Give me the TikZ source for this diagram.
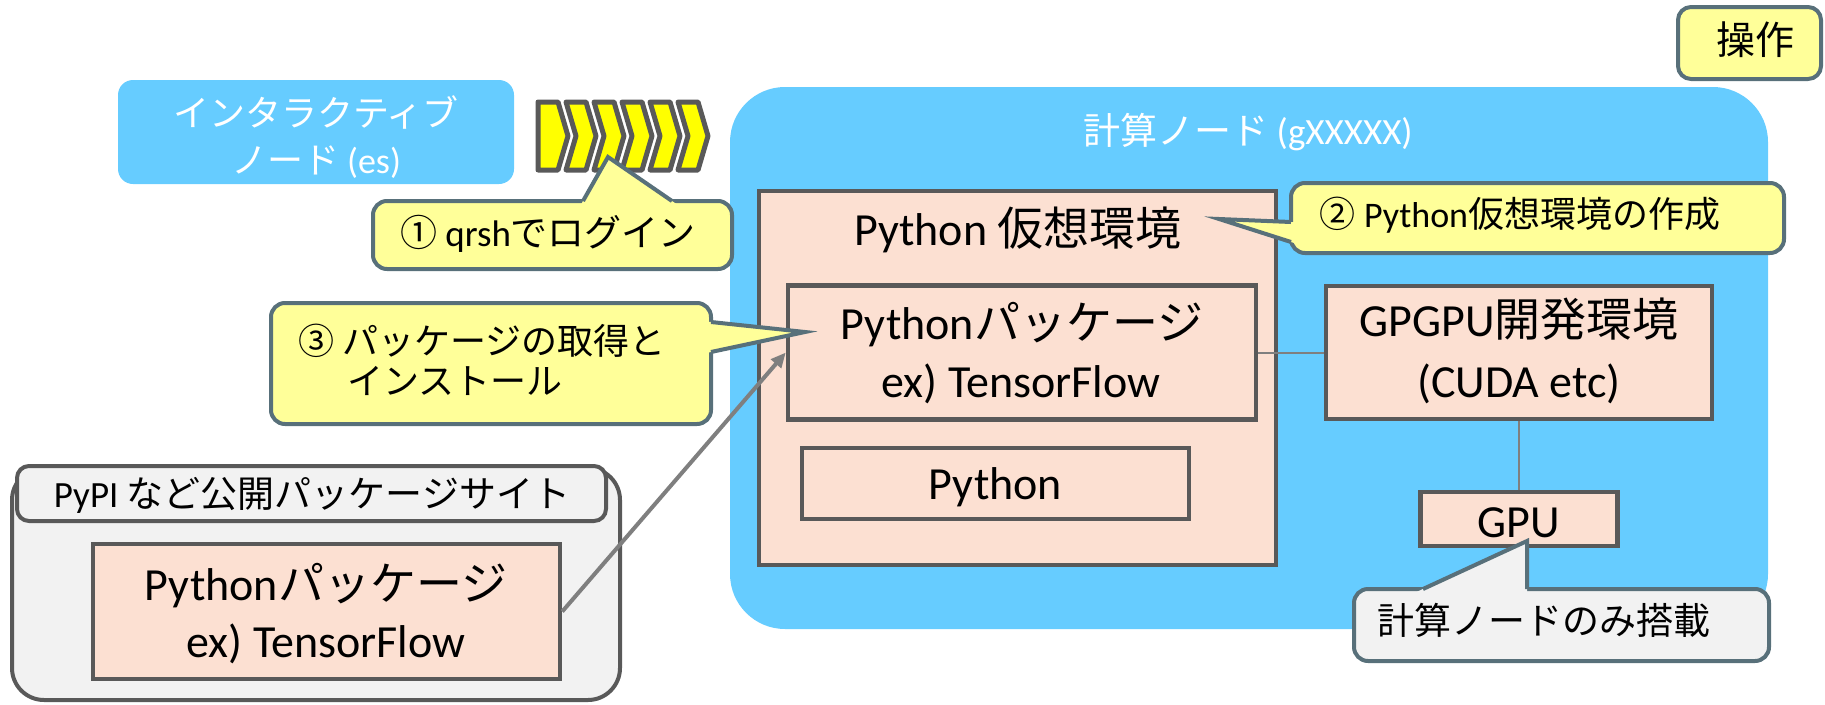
\documentclass[tikz,border=0pt]{standalone}
\usepackage{fontspec}
\setmainfont{Carlito}
\newfontfamily\jp{Noto Sans CJK JP}
\usetikzlibrary{calc,arrows.meta}
\definecolor{nodeblue}{HTML}{66CCFF}
\definecolor{peach}{HTML}{FCE0D2}
\definecolor{boxgray}{HTML}{595959}
\definecolor{callyellow}{HTML}{FFFF99}
\definecolor{callline}{HTML}{58707A}
\definecolor{paleg}{HTML}{F2F2F2}
\definecolor{linegray}{HTML}{7F7F7F}
\definecolor{chevyellow}{HTML}{FFFF00}
\newcommand\fbig{\fontsize{46}{55}\selectfont}
\newcommand\fmid{\fontsize{36}{44}\selectfont}
\newcommand\fsml{\fontsize{37}{44}\selectfont}
\begin{document}
\begin{tikzpicture}[x=1pt,y=-1pt,
  box/.style={draw=boxgray, line width=4.5pt, fill=peach, inner sep=0pt, rectangle},
  bluebox/.style={fill=nodeblue, inner sep=0pt, rectangle},
  graybox/.style={draw=boxgray, line width=4pt, fill=paleg, inner sep=0pt, rectangle},
  callbox/.style={draw=callline, line width=4pt, fill=callyellow, inner sep=0pt, rectangle, rounded corners=14pt},
  callfill/.style={fill=callyellow},
  calledge/.style={draw=callline, line width=4pt, line join=miter},
  chev/.style={draw=boxgray, line width=5pt, fill=chevyellow, line join=round},
  conn/.style={draw=linegray, line width=2pt},
  arrowline/.style={draw=linegray, line width=4pt, -{Triangle[length=15pt,width=13pt]}},
  txt/.style={inner sep=0pt, anchor=base, font=\fbig},
  mtxt/.style={inner sep=0pt, anchor=base, font=\fmid},
]
\useasboundingbox (0,0) rectangle (1825,704);

% compute node background
\node[bluebox, minimum width=1038pt, minimum height=542pt, rounded corners=55pt] (compute) at (1249,358) {};
\node[mtxt, text=white, font=\fontsize{37}{44}\selectfont] (computetitle) at (1248,144.5) {{\jp 計算ノード} (gXXXXX)};

% interactive node
\node[bluebox, minimum width=396pt, minimum height=104pt, rounded corners=15pt] (inter) at (316,132) {};
\node[mtxt, text=white] (intert1) at (316,126) {\jp インタラクティブ};
\node[mtxt, text=white] (intert2) at (316,173) {{\jp ノード} (es)};

% chevrons
\draw[chev] (538,102) -- (558,102) -- (568,136) -- (558,170) -- (538,170) -- cycle;
\foreach \k in {1,...,5}{
  \pgfmathsetmacro\chx{538+28*\k}
  \draw[chev] (\chx,102) -- ++(20,0) -- ++(10,34) -- ++(-10,34) -- ++(-20,0) -- ++(10,-34) -- cycle;
}

% venv
\node[box, minimum width=517pt, minimum height=374pt] (venv) at (1017.5,378) {};
\node[txt] (venvt) at (1018,245.5) {Python {\jp 仮想環境}};
\node[box, minimum width=468pt, minimum height=134pt] (venvpkg) at (1022,352.5) {};
\node[txt] (venvpkgt1) at (1022,339.5) {Python{\jp パッケージ}};
\node[txt] (venvpkgt2) at (1021,397.5) {ex) TensorFlow};
\node[box, minimum width=387pt, minimum height=71pt] (python) at (995.5,483.5) {};
\node[txt] (pythont) at (995.5,499) {Python};

% GPGPU and GPU
\node[box, minimum width=386pt, minimum height=133pt] (gpgpu) at (1519,352.5) {};
\node[txt] (gpgput1) at (1519,336.5) {GPGPU{\jp 開発環境}};
\node[txt] (gpgput2) at (1519,397) {(CUDA etc)};
\node[box, minimum width=197pt, minimum height=54pt] (gpu) at (1519,519) {};
\node[txt] (gput) at (1519,537) {GPU};

\draw[conn] (venvpkg.east) -- (gpgpu.west);
\draw[conn] (gpgpu.south) -- (gpu.north);

% PyPI site
\node[graybox, minimum width=608pt, minimum height=232pt, rounded corners=32pt] (pypi) at (316,584) {};
\node[graybox, minimum width=589pt, minimum height=55pt, rounded corners=12pt] (pypilabel) at (311.5,493.5) {};
\node[inner sep=0pt, anchor=base, font=\fsml] (pypilabelt) at (312,507) {PyPI {\jp など公開パッケージサイト}};
\node[box, minimum width=467pt, minimum height=135pt] (pypipkg) at (326.5,611.5) {};
\node[txt] (pypipkgt1) at (326,600.5) {Python{\jp パッケージ}};
\node[txt] (pypipkgt2) at (326,657) {ex) TensorFlow};

\draw[arrowline] (pypipkg.east) -- (venvpkg.west);

% operation label
\node[callbox, minimum width=143pt, minimum height=72pt, rounded corners=13pt] (ops) at (1749.5,43) {};
\node[mtxt, font=\fontsize{39}{44}\selectfont] (opst) at (1755,54) {\jp 操作};

% callout 1
\node[callbox, minimum width=359pt, minimum height=68pt] (c1) at (552.5,235) {};
\coordinate (c1a) at (583,201);
\coordinate (c1b) at (672,201);
\coordinate (c1t) at (608,157);
\fill[callfill] ($(c1a)!-8pt!(c1t)$) -- (c1t) -- ($(c1b)!-8pt!(c1t)$) -- cycle;
\draw[calledge] (c1a) -- (c1t) -- (c1b);
\node[mtxt, font=\fontsize{37}{44}\selectfont] (c1txt) at (548,246) {{\jp ①} qrsh{\jp でログイン}};

% callout 2
\node[callbox, minimum width=493pt, minimum height=70pt] (c2) at (1537.5,218) {};
\coordinate (c2a) at (1291,222);
\coordinate (c2b) at (1291,242);
\coordinate (c2t) at (1219,219);
\fill[callfill] ($(c2a)!-8pt!(c2t)$) -- (c2t) -- ($(c2b)!-8pt!(c2t)$) -- cycle;
\draw[calledge] (c2a) -- (c2t) -- (c2b);
\node[mtxt] (c2txt) at (1520,227) {{\jp ②} Python{\jp 仮想環境の作成}};

% callout 3
\node[callbox, minimum width=440pt, minimum height=121pt] (c3) at (491,363.5) {};
\coordinate (c3a) at (711,322);
\coordinate (c3b) at (711,352);
\coordinate (c3t) at (805,332);
\fill[callfill] ($(c3a)!-8pt!(c3t)$) -- (c3t) -- ($(c3b)!-8pt!(c3t)$) -- cycle;
\draw[calledge] (c3a) -- (c3t) -- (c3b);
\node[mtxt, anchor=base west] (c3txt1) at (298,354) {{\jp ③ パッケージの取得と}};
\node[mtxt, anchor=base west] (c3txt2) at (347,394) {\jp インストール};

% GPU note
\node[callbox, fill=paleg, minimum width=415pt, minimum height=72pt] (c4) at (1561.5,625) {};
\coordinate (c4a) at (1423,589);
\coordinate (c4b) at (1527,589);
\coordinate (c4t) at (1527,541);
\fill[paleg] ($(c4a)!-8pt!(c4t)$) -- (c4t) -- ($(c4b)!-8pt!(c4t)$) -- cycle;
\draw[calledge] (c4a) -- (c4t) -- (c4b);
\node[mtxt, anchor=base west, font=\fontsize{37}{44}\selectfont] (c4txt) at (1377,634) {\jp 計算ノードのみ搭載};
\end{tikzpicture}
\end{document}
